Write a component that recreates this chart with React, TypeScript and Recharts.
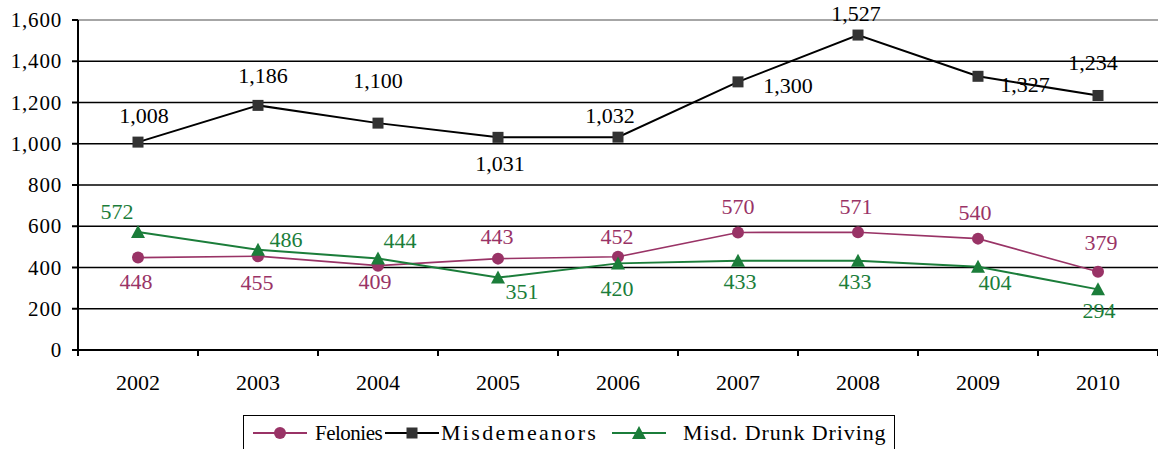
import React from 'react';
import { LineChart, Line, XAxis, YAxis, CartesianGrid, Legend } from 'recharts';

const years = ['2002', '2003', '2004', '2005', '2006', '2007', '2008', '2009', '2010'];
const felonies = [448, 455, 409, 443, 452, 570, 571, 540, 379];
const misdemeanors = [1008, 1186, 1100, 1031, 1032, 1300, 1527, 1327, 1234];
const drunkDriving = [572, 486, 444, 351, 420, 433, 433, 404, 294];
const yTicks = [0, 200, 400, 600, 800, 1000, 1200, 1400, 1600];

// label placement offsets (dx, dy) relative to each point
const felonyLabelOffsets = [[-2, 24], [-1, 26], [-3, 16], [-1, -22], [-1, -20], [0, -26], [-2, -26], [-3, -26], [3, -29]];
const misdLabelOffsets = [[6, -27], [5, -30], [0, -43], [2, 26], [-8, -22], [50, 4], [-2, -22], [47, 8], [-5, -33]];
const dudLabelOffsets = [[-21, -21], [28, -10], [22, -18], [24, 14], [-1, 25], [2, 21], [-3, 21], [17, 16], [1, 21]];

const FEL = '#993366';
const MIS = '#000000';
const MIS_MARK = '#333333';
const DUI = '#1b7d3a';
const FONT = '"Liberation Serif", "Times New Roman", serif';

const data = years.map((y, i) => ({
  year: y,
  felonies: felonies[i],
  misdemeanors: misdemeanors[i],
  drunkDriving: drunkDriving[i],
}));

const fmt = (v: number) => Number(v).toLocaleString('en-US');

const makeLabel = (offsets: number[][], color: string) => (props: any) => {
  const { x, y, value, index } = props;
  if (x == null || y == null) return null;
  const [dx, dy] = offsets[index] || [0, -20];
  return (
    <text
      key={`lbl-${index}`}
      x={x + dx}
      y={y + dy}
      textAnchor="middle"
      dominantBaseline="central"
      fill={color}
      style={{ fontFamily: FONT, fontSize: 22 }}
    >
      {fmt(value)}
    </text>
  );
};

const SquareDot = (p: any) =>
  p.cx == null ? null : (
    <rect key={`sq-${p.index}`} x={p.cx - 5.5} y={p.cy - 5.5} width={11} height={11} fill={MIS_MARK} />
  );
const CircleDot = (p: any) =>
  p.cx == null ? null : <circle key={`ci-${p.index}`} cx={p.cx} cy={p.cy} r={6} fill={FEL} />;
const TriangleDot = (p: any) =>
  p.cx == null ? null : (
    <polygon
      key={`tr-${p.index}`}
      points={`${p.cx},${p.cy - 7} ${p.cx + 7},${p.cy + 6} ${p.cx - 7},${p.cy + 6}`}
      fill={DUI}
    />
  );

const XTick = (props: any) => {
  const { x, y, payload, index } = props;
  const half = 60;
  return (
    <g>
      <line x1={x - half} x2={x - half} y1={y} y2={y + 6} stroke="#000" strokeWidth={2} />
      {index === years.length - 1 ? (
        <line x1={x + half} x2={x + half} y1={y} y2={y + 6} stroke="#000" strokeWidth={2} />
      ) : null}
      <text x={x} y={y + 32} textAnchor="middle" dominantBaseline="central" fill="#000" style={{ fontFamily: FONT, fontSize: 22 }}>
        {payload.value}
      </text>
    </g>
  );
};

const YTick = (props: any) => {
  const { x, y, payload } = props;
  return (
    <text x={x} y={y} textAnchor="end" dominantBaseline="central" fill="#000" style={{ fontFamily: FONT, fontSize: 21, letterSpacing: 0.8 }}>
      {fmt(payload.value)}
    </text>
  );
};

const LegendMarker = ({ kind, color }: { kind: string; color: string }) => (
  <svg width={54} height={16} style={{ display: 'block' }}>
    <line x1={0} x2={54} y1={8} y2={8} stroke={color} strokeWidth={2} />
    {kind === 'circle' && <circle cx={27} cy={8} r={6} fill={color} />}
    {kind === 'square' && <rect x={21.5} y={2.5} width={11} height={11} fill={MIS_MARK} />}
    {kind === 'triangle' && <polygon points="27,1 34,14 20,14" fill={color} />}
  </svg>
);

const legendItems = [
  { label: 'Felonies', kind: 'circle', color: FEL, mx: 9, tx: 71, ls: -0.5, fs: 21 },
  { label: 'Misdemeanors', kind: 'square', color: MIS, mx: 141, tx: 197, ls: 2.3, fs: 22 },
  { label: 'Misd. Drunk Driving', kind: 'triangle', color: DUI, mx: 368, tx: 439, ls: 0.9, fs: 22 },
];

const LegendContent = () => (
  <div
    style={{
      position: 'relative',
      boxSizing: 'border-box',
      width: 652,
      height: 40,
      border: '1.5px solid #000',
      fontFamily: FONT,
      color: '#000',
      background: '#fff',
    }}
  >
    {legendItems.map((it) => (
      <React.Fragment key={it.label}>
        <div style={{ position: 'absolute', left: it.mx, top: 9 }}>
          <LegendMarker kind={it.kind} color={it.color} />
        </div>
        <span
          style={{
            position: 'absolute',
            left: it.tx,
            top: 3,
            lineHeight: '28px',
            fontSize: it.fs,
            letterSpacing: it.ls,
            whiteSpace: 'nowrap',
          }}
        >
          {it.label}
        </span>
      </React.Fragment>
    ))}
  </div>
);

const GridLine = (p: any) => (
  <line
    key={`g-${p.y1}`}
    x1={p.x1}
    x2={p.x2}
    y1={p.y1}
    y2={p.y2}
    stroke={p.y1 < 25 ? '#888' : '#000'}
    strokeWidth={1.6}
  />
);

export default function App() {
  return (
    <div style={{ position: 'absolute', left: 0, top: 0, background: '#fff' }}>
      <LineChart width={1158} height={449} data={data} margin={{ top: 20, right: 0, left: 0, bottom: 29 }}>
        <CartesianGrid vertical={false} horizontal={GridLine as any} />
        <XAxis
          dataKey="year"
          padding={{ left: 60, right: 60 }}
          axisLine={{ stroke: '#000', strokeWidth: 2 }}
          tickLine={false}
          tickSize={0}
          tickMargin={0}
          height={30}
          interval={0}
          tick={<XTick />}
        />
        <YAxis
          width={78}
          domain={[0, 1600]}
          ticks={yTicks}
          interval={0}
          axisLine={{ stroke: '#000', strokeWidth: 2 }}
          tickLine={{ stroke: '#000', strokeWidth: 2 }}
          tickSize={6}
          tickMargin={10}
          tick={<YTick />}
        />
        <Legend
          verticalAlign="bottom"
          content={<LegendContent />}
          wrapperStyle={{ position: 'absolute', left: 243, top: 415, bottom: 'auto', width: 652, height: 40 }}
        />
        <Line
          type="linear"
          dataKey="felonies"
          name="Felonies"
          stroke={FEL}
          strokeWidth={1.6}
          dot={CircleDot}
          activeDot={false}
          label={makeLabel(felonyLabelOffsets, FEL)}
          isAnimationActive={false}
        />
        <Line
          type="linear"
          dataKey="misdemeanors"
          name="Misdemeanors"
          stroke={MIS}
          strokeWidth={2}
          dot={SquareDot}
          activeDot={false}
          label={makeLabel(misdLabelOffsets, MIS)}
          isAnimationActive={false}
        />
        <Line
          type="linear"
          dataKey="drunkDriving"
          name="Misd. Drunk Driving"
          stroke={DUI}
          strokeWidth={2}
          dot={TriangleDot}
          activeDot={false}
          label={makeLabel(dudLabelOffsets, DUI)}
          isAnimationActive={false}
        />
      </LineChart>
    </div>
  );
}
